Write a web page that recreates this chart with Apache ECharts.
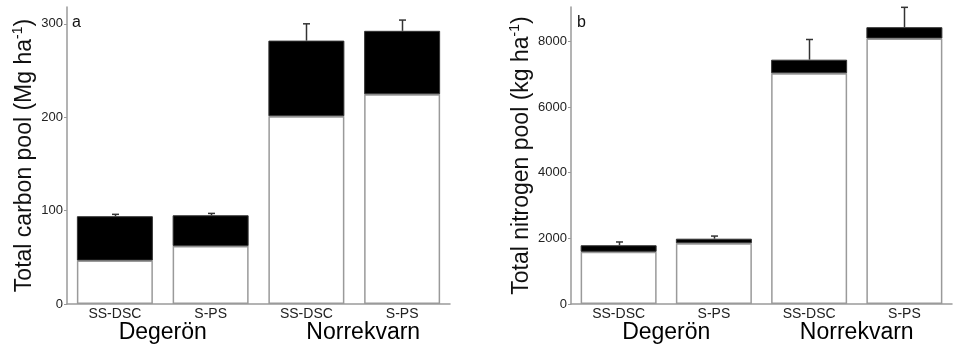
<!DOCTYPE html>
<html>
<head>
<meta charset="utf-8">
<script src="https://cdn.jsdelivr.net/npm/echarts@6/dist/echarts.min.js"></script>
<style>html,body{margin:0;padding:0;background:#fff}#c{width:955px;height:344px}</style>
</head>
<body>
<div id="c"></div>
<script>
// Categories
var treatments = ['SS-DSC', 'S-PS', 'SS-DSC', 'S-PS'];
var sites = ['Degerön', 'Norrekvarn'];
// Panel a: carbon pool (Mg ha-1)
var carbonLower = [46.5, 62, 201, 224.5];
var carbonUpper = [47.5, 33, 81, 68];
var carbonErr = [2, 2, 18, 11.5];
// Panel b: nitrogen pool (kg ha-1)
var nitrogenLower = [1590, 1850, 7030, 8090];
var nitrogenUpper = [200, 140, 415, 345];
var nitrogenErr = [100, 80, 615, 605];
// Axis ticks
var carbonTicks = {min: 0, max: 318, interval: 100};
var nitrogenTicks = {min: 0, max: 9050, interval: 2000};

var FONT = '"Liberation Sans", Arial, sans-serif';
var AX = '#9a9a9a';

function errData(lower, upper, err) {
  return lower.map(function (v, i) {
    var tot = v + upper[i];
    return [i, tot, tot + err[i]];
  });
}

function errRender(params, api) {
  var p0 = api.coord([api.value(0), api.value(1)]);
  var p1 = api.coord([api.value(0), api.value(2)]);
  var x = Math.round(p0[0]) + 0.5;
  return {
    type: 'group',
    children: [
      {type: 'line', shape: {x1: x, y1: p0[1], x2: x, y2: p1[1]}, style: {stroke: '#333', lineWidth: 1.5}},
      {type: 'line', shape: {x1: x - 3.5, y1: p1[1], x2: x + 3.5, y2: p1[1]}, style: {stroke: '#333', lineWidth: 1.5}}
    ]
  };
}

function yAx(idx, ticks, nameRich, gap) {
  return {
    type: 'value', gridIndex: idx, min: ticks.min, max: ticks.max, interval: ticks.interval,
    axisLine: {show: true, lineStyle: {color: AX, width: 1.5}},
    axisTick: {show: true, length: 3, lineStyle: {color: AX, width: 1}},
    splitLine: {show: false},
    axisLabel: {color: '#222', fontFamily: FONT, fontSize: 13, margin: 4, showMaxLabel: false,
      formatter: function (v) { return String(v); }},
    name: nameRich, nameLocation: 'middle', nameGap: gap, nameRotate: 90,
    nameTextStyle: {
      color: '#111', fontFamily: FONT, fontSize: 23, lineHeight: 26,
      rich: {sup: {fontSize: 14, verticalAlign: 'top', lineHeight: 26, color: '#111', fontFamily: FONT, padding: [0, 0, 10, 0]}}
    }
  };
}

function xAx(idx) {
  return {
    type: 'category', gridIndex: idx, data: treatments,
    axisLine: {show: true, lineStyle: {color: AX, width: 1.5}},
    axisTick: {show: false},
    axisLabel: {color: '#222', fontFamily: FONT, fontSize: 14, margin: 3, interval: 0}
  };
}

function xGroup(idx, shiftNorr) {
  return {
    type: 'category', gridIndex: idx, data: sites, position: 'bottom',
    axisLine: {show: false}, axisTick: {show: false}, splitLine: {show: false},
    axisLabel: {
      color: '#000', fontFamily: FONT, fontSize: 23, margin: 17, interval: 0, hideOverlap: false,
      formatter: function (v) { return v === 'Norrekvarn' && shiftNorr ? '{n|' + v + '}' : v; },
      rich: {n: {fontSize: 23, fontFamily: FONT, color: '#000', padding: [0, 0, 0, 18]}}
    }
  };
}

function barsFor(xi, yi, lower, upper, err) {
  return [
    {type: 'bar', xAxisIndex: xi, yAxisIndex: yi, stack: 's' + yi, data: lower, barWidth: 76,
      itemStyle: {color: '#fff', borderColor: AX, borderWidth: 1.5}, silent: true},
    {type: 'bar', xAxisIndex: xi, yAxisIndex: yi, stack: 's' + yi, data: upper, barWidth: 76,
      itemStyle: {color: '#000', borderColor: '#333', borderWidth: 1}, silent: true},
    {type: 'custom', xAxisIndex: xi, yAxisIndex: yi, data: errData(lower, upper, err),
      renderItem: errRender, encode: {x: 0, y: [1, 2]}, z: 5, silent: true}
  ];
}

var chart = echarts.init(document.getElementById('c'), null, {renderer: 'canvas'});
chart.setOption({
  animation: false,
  backgroundColor: '#fff',
  grid: [
    {left: 67, top: 7, width: 383, height: 298},
    {left: 571, top: 7, width: 381, height: 298}
  ],
  xAxis: [xAx(0), xAx(1), xGroup(0, true), xGroup(1, false)],
  yAxis: [
    yAx(0, carbonTicks, 'Total carbon pool (Mg ha{sup|-1})', 28),
    yAx(1, nitrogenTicks, 'Total nitrogen pool (kg ha{sup|-1})', 35)
  ],
  graphic: [
    {type: 'text', left: 72, top: 15, style: {text: 'a', fontFamily: FONT, fontSize: 16, fill: '#111'}},
    {type: 'text', left: 577, top: 15, style: {text: 'b', fontFamily: FONT, fontSize: 16, fill: '#111'}}
  ],
  series: [].concat(
    barsFor(0, 0, carbonLower, carbonUpper, carbonErr),
    barsFor(1, 1, nitrogenLower, nitrogenUpper, nitrogenErr)
  )
});
</script>
</body>
</html>
